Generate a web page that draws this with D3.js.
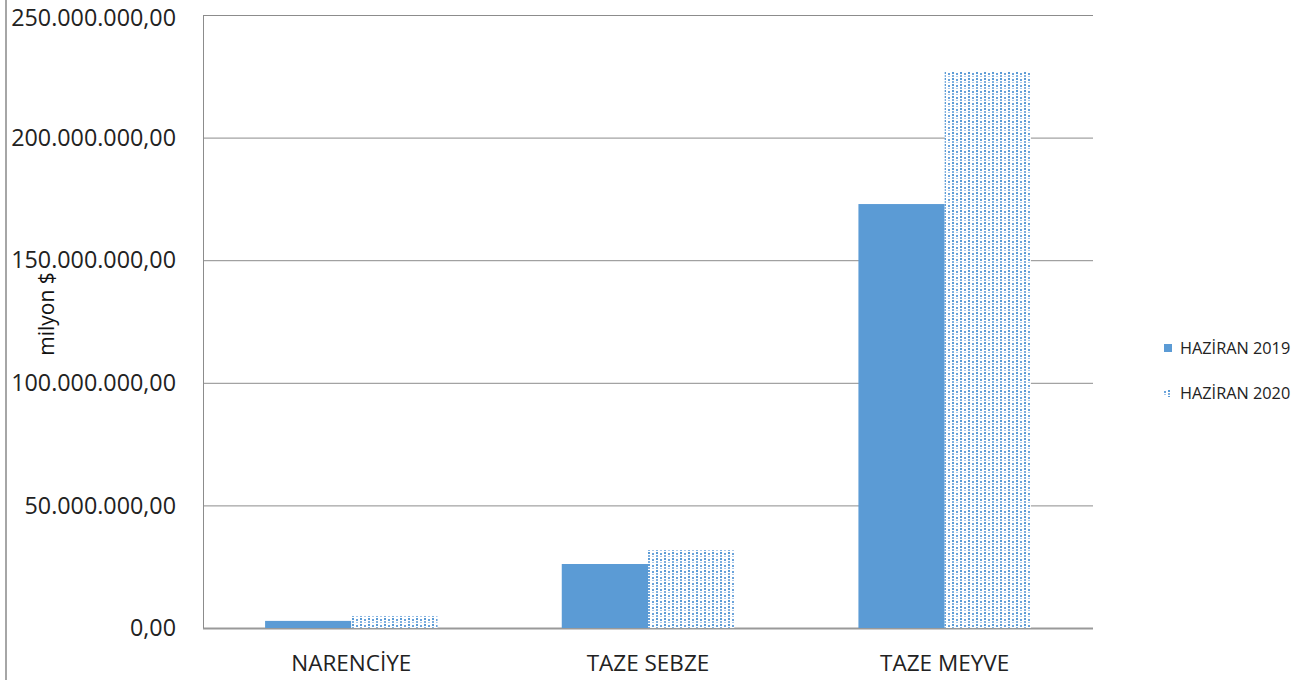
<!DOCTYPE html>
<html><head><meta charset="utf-8">
<script src="https://cdn.jsdelivr.net/npm/d3@7"></script>
<style>body{margin:0;background:#fff;}svg{display:block;font-family:"Open Sans","Liberation Sans",sans-serif;}</style>
</head><body>
<svg id="c" width="1304" height="680"></svg>
<script>
const categories = ["NARENCİYE", "TAZE SEBZE", "TAZE MEYVE"];
const seriesNames = ["HAZİRAN 2019", "HAZİRAN 2020"];
const values2019 = [2900000, 26100000, 172900000];
const values2020 = [4900000, 31800000, 226800000];
const yTicks = [0, 50000000, 100000000, 150000000, 200000000, 250000000];

(function(){
const svg = d3.select("#c");
const defs = svg.append("defs");
const pat = defs.append("pattern").attr("id","dots").attr("patternUnits","userSpaceOnUse")
  .attr("width",8).attr("height",6);
pat.append("rect").attr("width",8).attr("height",6).attr("fill","#fff");
pat.append("rect").attr("x",0).attr("y",0).attr("width",2).attr("height",2).attr("fill","#5b9bd5");
pat.append("rect").attr("x",0).attr("y",3).attr("width",2).attr("height",2).attr("fill","#7fb0e0");
pat.append("rect").attr("x",4).attr("y",1).attr("width",2).attr("height",2).attr("fill","#6aa3db");
pat.append("rect").attr("x",4).attr("y",4).attr("width",2).attr("height",1).attr("fill","#a9c8ea");

const pL = 203, pR = 1093, pT = 15, pB = 628;
const x = d3.scaleBand().domain(categories).range([pL, pR]).paddingInner(0).paddingOuter(0);
const sub = d3.scaleBand().domain(seriesNames).range([0, x.bandwidth()]).paddingOuter(0.72).paddingInner(0);
const y = d3.scaleLinear().domain([0, 250000000]).range([pB, pT]);

svg.append("line").attr("x1",6).attr("x2",6).attr("y1",0).attr("y2",680).attr("stroke","#a6a6a6").attr("stroke-width",2);

const fmt = v => {
  const s = d3.format(",.2f")(v);
  return s.replace(/,/g,"#").replace(".",",").replace(/#/g,".");
};

svg.append("g").selectAll("line").data(yTicks).join("line")
  .attr("x1",pL).attr("x2",pR).attr("y1",d=>y(d)+0.5).attr("y2",d=>y(d)+0.5)
  .attr("stroke",d=>d===0?"#999":"#8c8c8c").attr("stroke-width",d=>d===0?2:1);
svg.append("line").attr("x1",pL+0.5).attr("x2",pL+0.5).attr("y1",pT).attr("y2",pB).attr("stroke","#8c8c8c");

svg.append("g").selectAll("text").data(yTicks).join("text")
  .attr("x",176).attr("y",d=>Math.max(y(d), 18)).attr("dy","0.35em").attr("text-anchor","end")
  .attr("font-size",23.3).attr("fill","#222").text(fmt);

const series = [values2019, values2020];
const fills = ["#5b9bd5","url(#dots)"];
series.forEach((vals,si)=>{
  svg.append("g").selectAll("rect").data(categories).join("rect")
    .attr("x",c=>x(c)+sub(seriesNames[si]))
    .attr("width",sub.bandwidth())
    .attr("y",(c,i)=>y(vals[i]))
    .attr("height",(c,i)=>pB-y(vals[i]))
    .attr("fill",fills[si]);
});

svg.append("g").selectAll("text").data(categories).join("text")
  .attr("x",c=>x(c)+x.bandwidth()/2).attr("y",663).attr("dy","0.35em").attr("text-anchor","middle")
  .attr("font-size",22.5).attr("fill","#222").text(d=>d);

svg.append("text").attr("transform","translate(47,314) rotate(-90)").attr("text-anchor","middle")
  .attr("dy","0.35em").attr("font-size",21).attr("fill","#111").text("milyon $");

const lg = svg.append("g");
seriesNames.forEach((n,i)=>{
  const ly = 348 + i*45;
  lg.append("rect").attr("x",1164).attr("y",ly-4).attr("width",8).attr("height",8).attr("fill",fills[i]);
  lg.append("text").attr("x",1180).attr("y",ly).attr("dy","0.35em").attr("font-size",16.3).attr("fill","#222").text(n);
});
})();
</script>
</body></html>
